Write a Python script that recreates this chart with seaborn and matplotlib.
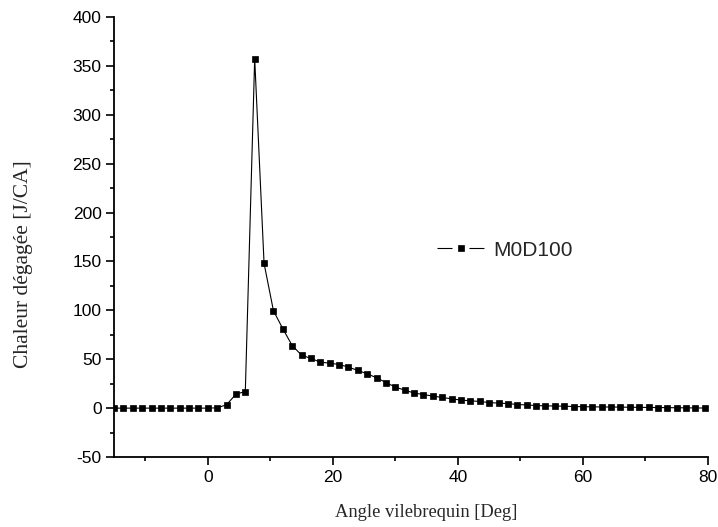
import numpy as np
import pandas as pd
import matplotlib
matplotlib.use("Agg")
import matplotlib.pyplot as plt
from matplotlib.ticker import MultipleLocator
import seaborn as sns

# Crank angle (deg), step 1.5
angle = [-15, -13.5, -12, -10.5, -9, -7.5, -6, -4.5, -3, -1.5, 0, 1.5,
         3, 4.5, 6, 7.5, 9, 10.5, 12, 13.5, 15, 16.5, 18, 19.5, 21, 22.5,
         24, 25.5, 27, 28.5, 30, 31.5, 33, 34.5, 36, 37.5, 39, 40.5, 42,
         43.5, 45, 46.5, 48, 49.5, 51, 52.5, 54, 55.5, 57, 58.5, 60, 61.5,
         63, 64.5, 66, 67.5, 69, 70.5, 72, 73.5, 75, 76.5, 78, 79.5]
# Heat release (J/CA)
heat = [0, 0, 0, 0, 0, 0, 0, 0, 0, 0, 0, 0.3,
        3.4, 14.3, 17, 357.5, 148, 99.6, 81.2, 64, 54.2, 50.8, 47, 46, 44.6, 42,
        38.5, 35.1, 31, 26.2, 21.5, 18.4, 15.4, 13.9, 12.3, 10.9, 9.5, 8.2, 7.5,
        6.8, 5.7, 5.1, 4.7, 3.7, 3.3, 2.6, 2.3, 2.2, 2.0, 1.6, 1.5, 1.3,
        1.2, 1.1, 1.0, 0.9, 0.8, 0.7, 0.6, 0.5, 0.4, 0.3, 0.2, 0.1]
series_name = "M0D100"

x_ticks = [0, 20, 40, 60, 80]
y_ticks = [-50, 0, 50, 100, 150, 200, 250, 300, 350, 400]

df = pd.DataFrame({"angle": angle, "heat": heat, "serie": series_name})

sns.set_style("ticks")
plt.rcParams["font.family"] = ["Liberation Sans", "DejaVu Sans"]
plt.rcParams["axes.unicode_minus"] = False

fig = plt.figure(figsize=(7.18, 5.27), dpi=100)
ax = fig.add_axes([0.1588, 0.1328, 0.8272, 0.8349])

sns.lineplot(data=df, x="angle", y="heat", hue="serie", palette=["black"],
             marker="s", markersize=4, markeredgecolor="black",
             markeredgewidth=0.5, linewidth=0.8, ax=ax, legend=True)

ax.set_xlim(-15, 80)
ax.set_ylim(-50, 400)
ax.set_xticks(x_ticks)
ax.set_yticks(y_ticks)
ax.xaxis.set_minor_locator(MultipleLocator(10))
ax.yaxis.set_minor_locator(MultipleLocator(25))
ax.tick_params(which="major", direction="out", length=6, width=1.2,
               labelsize=12.5, color="black", labelcolor="black", pad=3)
ax.tick_params(which="minor", direction="out", length=3, width=1.2,
               color="black")
for side in ["top", "right"]:
    ax.spines[side].set_visible(False)
for side in ["left", "bottom"]:
    ax.spines[side].set_linewidth(1.3)
    ax.spines[side].set_color("black")

serif = ["Liberation Serif", "DejaVu Serif"]
ax.set_xlabel("Angle vilebrequin [Deg]", family=serif, fontsize=13.3)
ax.set_ylabel("Chaleur dégagée [J/CA]", family=serif, fontsize=15.5)
ax.xaxis.set_label_coords(0.525, -0.106)
ax.yaxis.set_label_coords(-0.136, 0.439)

handles, labels = ax.get_legend_handles_labels()
leg = ax.legend(handles, labels, loc="center left", bbox_to_anchor=(0.544, 0.47),
                frameon=False, handlelength=2.25, handletextpad=0.45,
                fontsize=15, numpoints=1, borderaxespad=0, borderpad=0)
for h in leg.legend_handles:
    h.set_dashes((13.5, 15.25))
    h.set_linewidth(0.8)

fig.savefig("out.png", dpi=100)
